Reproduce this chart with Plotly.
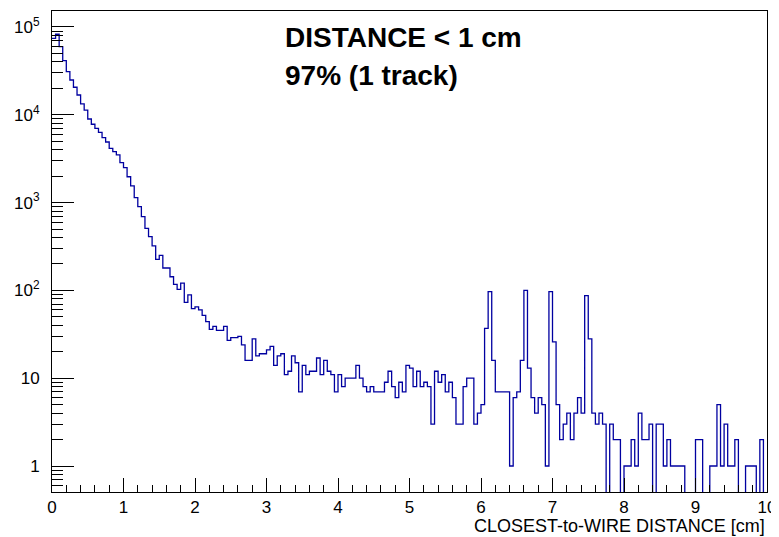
import numpy as np
import plotly.graph_objects as go

# Histogram: 200 bins of 0.05 cm between 0 and 10 cm
x_min, x_max, n_bins = 0.0, 10.0, 200
counts = [
    74300, 82600, 59700, 41300, 31000, 24900, 20600, 16800, 13300, 11300,
    8960, 7800, 7000, 6300, 5500, 4900, 4150, 3800, 3500, 2850,
    2500, 1970, 1550, 1140, 898, 691, 509, 409, 321, 226,
    251, 180, 180, 143, 117, 103, 121, 73, 89, 62,
    65, 60, 52, 44, 36, 39, 35, 35, 39, 27,
    29, 29, 30, 24, 16, 16, 28, 18, 19, 19,
    21, 23, 14, 18, 19, 11, 12, 18, 15, 7,
    14, 11, 12, 12, 17, 11, 16, 12, 11, 7,
    11, 8, 10, 10, 10, 14, 10, 8, 7, 8,
    7, 7, 7, 9, 12, 8, 6, 9, 7, 14,
    13, 8, 12, 8, 9, 8, 3, 12, 9, 11,
    7, 9, 6, 3, 3, 8, 10, 10, 3, 4,
    5, 37, 97, 16, 7, 7, 7, 7, 1, 6,
    7, 16, 100, 13, 6, 4, 6, 5, 1, 97,
    26, 5, 2, 3, 4, 2, 4, 6, 4, 87,
    28, 4, 3, 4, 3, 0, 3, 2, 2, 0,
    1, 1, 2, 1, 4, 2, 2, 3, 0, 3,
    3, 1, 2, 1, 1, 1, 1, 0, 0, 0,
    2, 2, 0, 0, 1, 1, 5, 1, 3, 1,
    1, 2, 0, 0, 1, 1, 1, 0, 2, 0,
]
x_tick_vals = list(range(0, 11))
y_tick_vals = [1, 10, 100, 1000, 10000, 100000]
y_tick_text = ["1", "10", "10<sup>2</sup>", "10<sup>3</sup>", "10<sup>4</sup>", "10<sup>5</sup>"]
x_title = "CLOSEST-to-WIRE DISTANCE [cm]"
text_line1 = "DISTANCE < 1 cm"
text_line2 = "97% (1 track)"

edges = np.linspace(x_min, x_max, n_bins + 1)
# empty bins drop below the log axis (like ROOT)
yplot = [c if c > 0 else 1e-3 for c in counts]
xs = list(edges[:-1]) + [edges[-1]]
ys = yplot + [yplot[-1]]

y_range = [float(np.log10(0.506)), 5.182]
y_minor = [m * 10.0 ** d for d in range(-1, 6) for m in range(2, 10)
           if 0.5 <= m * 10.0 ** d <= 1.5e5]

fig = go.Figure()
fig.add_trace(go.Scatter(
    x=xs, y=ys, mode="lines", line=dict(shape="hv", color="#0000a0", width=1.3),
    showlegend=False, hoverinfo="skip",
))

# page body has an 8px margin: plot frame lands at x 52..767, y 11..492
W, H = 771, 529
ml, mr, mt, mb = 44, 12, 3, 45
pw, ph = W - ml - mr, H - mt - mb

font_family = "Liberation Sans, Arial, Helvetica, sans-serif"
fig.update_layout(
    width=W, height=H,
    margin=dict(l=ml, r=mr, t=mt, b=mb, autoexpand=False),
    paper_bgcolor="white", plot_bgcolor="white",
    font=dict(family=font_family, size=17, color="black"),
    xaxis=dict(
        range=[x_min, x_max], showgrid=False, zeroline=False, automargin=False,
        showline=True, linecolor="black", linewidth=1, mirror=True,
        ticks="inside", ticklen=14, tickwidth=1, tickcolor="black",
        tickmode="array", tickvals=x_tick_vals,
        tickfont=dict(size=17),
        minor=dict(ticks="inside", ticklen=7, tickcolor="black", dtick=0.2, tick0=0, showgrid=False),
    ),
    yaxis=dict(
        type="log", range=y_range, showgrid=False, zeroline=False, automargin=False,
        showline=True, linecolor="black", linewidth=1, mirror=True,
        ticks="inside", ticklen=22, tickwidth=1, tickcolor="black",
        tickmode="array", tickvals=y_tick_vals, ticktext=y_tick_text,
        tickfont=dict(size=17), ticklabelstandoff=8,
    ),
    yaxis2=dict(
        type="log", range=y_range, overlaying="y", side="left", anchor="x",
        showgrid=False, zeroline=False, automargin=False, showline=False,
        ticks="inside", ticklen=11, tickwidth=1, tickcolor="black",
        tickmode="array", tickvals=y_minor, showticklabels=False,
    ),
    annotations=[
        dict(text=x_title, xref="paper", yref="paper", x=1.0, y=-34 / ph,
             xanchor="right", yanchor="middle", showarrow=False,
             font=dict(size=18, family=font_family)),
        dict(text="<b>" + text_line1.replace("<", "&lt;") + "</b>", xref="paper", yref="paper",
             x=(283 - 52) / pw, y=(492 - 37) / ph, xanchor="left", yanchor="middle",
             showarrow=False, font=dict(size=28, family=font_family)),
        dict(text="<b>" + text_line2 + "</b>", xref="paper", yref="paper",
             x=(283 - 52) / pw, y=(492 - 75) / ph, xanchor="left", yanchor="middle",
             showarrow=False, font=dict(size=28, family=font_family)),
    ],
)
# an empty trace so the minor-tick axis is drawn
fig.add_trace(go.Scatter(x=[None], y=[None], yaxis="y2", showlegend=False, hoverinfo="skip"))

fig.write_html("out.html")
